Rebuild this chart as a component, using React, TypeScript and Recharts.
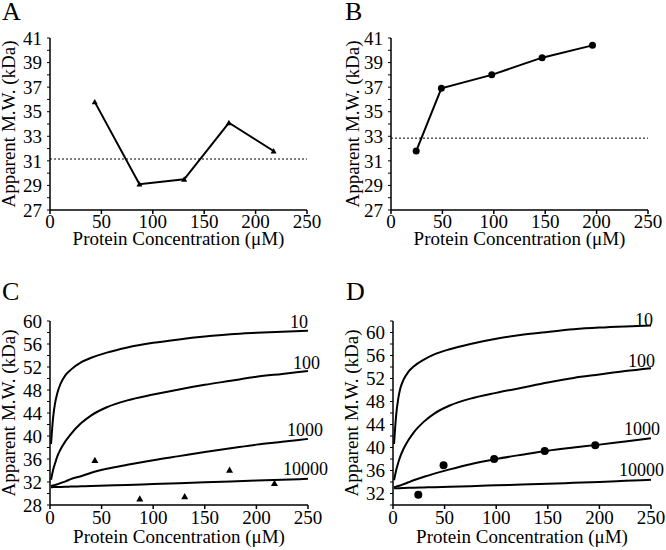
import React from "react"
import {
  ComposedChart,
  Line,
  Scatter,
  XAxis,
  YAxis,
  ReferenceLine,
} from "recharts"

// measured points, panel A (triangles) and panel B (circles)
const concA = [43.5, 87, 130.5, 174, 217.5]
const mwA = [35.8, 29.1, 29.5, 34.1, 31.8]
const monomerA = 31.15
const concB = [24.5, 49, 98, 147, 196]
const mwB = [31.8, 36.9, 38.0, 39.4, 40.4]
const monomerB = 32.85

// axis ticks
const xTicks = [0, 50, 100, 150, 200, 250]
const yTicksAB = [27, 28, 29, 30, 31, 32, 33, 34, 35, 36, 37, 38, 39, 40, 41]
const yLabelsAB = [27, 29, 31, 33, 35, 37, 39, 41]
const yTicksC = [28, 30, 32, 34, 36, 38, 40, 42, 44, 46, 48, 50, 52, 54, 56, 58, 60]
const yLabelsC = [28, 32, 36, 40, 44, 48, 52, 56, 60]
const yTicksD = [30, 32, 34, 36, 38, 40, 42, 44, 46, 48, 50, 52, 54, 56, 58, 60, 62]
const yLabelsD = [32, 36, 40, 44, 48, 52, 56, 60]

// simulated curves at these concentrations
const kdNames = ["10", "100", "1000", "10000"]
const fitConc = [1, 3, 5, 7, 10, 15, 20, 30, 40, 55, 75, 100, 125, 150, 175, 200, 225, 250]
const fitC10 = [38.6, 43.2, 45.8, 47.4, 49.0, 50.6, 51.5, 52.8, 53.6, 54.5, 55.4, 56.2, 56.8, 57.3, 57.7, 57.95, 58.15, 58.3]
const fitC100 = [32.4, 34.1, 35.3, 36.4, 37.6, 39.1, 40.3, 42.2, 43.6, 45.0, 46.2, 47.2, 48.1, 48.9, 49.6, 50.3, 50.8, 51.3]
const fitC1000 = [31.3, 31.4, 31.5, 31.6, 31.8, 32.1, 32.5, 33.0, 33.6, 34.3, 35.0, 35.8, 36.5, 37.2, 37.85, 38.5, 39.0, 39.5]
const fitC10000 = [31.1, 31.11, 31.12, 31.13, 31.15, 31.18, 31.2, 31.25, 31.3, 31.38, 31.48, 31.65, 31.8, 31.95, 32.1, 32.25, 32.4, 32.55]
const fitD10 = [40.6, 45.5, 48.4, 50.2, 51.7, 53.2, 54.1, 55.3, 56.2, 57.1, 58.0, 58.9, 59.6, 60.1, 60.55, 60.85, 61.05, 61.2]
const fitD100 = [34.3, 36.0, 37.3, 38.4, 39.7, 41.3, 42.6, 44.5, 45.9, 47.3, 48.5, 49.5, 50.4, 51.3, 52.1, 52.7, 53.3, 53.8]
const fitD1000 = [33.1, 33.2, 33.3, 33.4, 33.6, 33.95, 34.3, 34.9, 35.45, 36.2, 37.1, 38.0, 38.75, 39.45, 40.0, 40.5, 41.05, 41.6]
const fitD10000 = [32.9, 32.91, 32.92, 32.93, 32.95, 32.98, 33.0, 33.05, 33.1, 33.18, 33.28, 33.42, 33.56, 33.7, 33.85, 34.0, 34.2, 34.4]

const FONT = "'Liberation Serif', 'DejaVu Serif', serif"
const textStyle = { fontFamily: FONT }

const toPoints = (xs: number[], ys: number[]) => xs.map((x, i) => ({ x, y: ys[i] }))

function triangle(cx: number, cy: number, key: string, s = 3.5) {
  return (
    <polygon
      key={key}
      points={`${cx},${cy - s} ${cx + s},${cy + s * 0.8} ${cx - s},${cy + s * 0.8}`}
      fill="#000"
    />
  )
}

function makeYTick(labels: number[]) {
  return (props: any) => {
    const { x, y, payload } = props
    if (!labels.includes(payload.value)) return <g />
    return (
      <text x={x} y={y} dy="0.355em" textAnchor="end" fontSize={19} style={textStyle} fill="#000">
        {payload.value}
      </text>
    )
  }
}

function XTick(props: any) {
  const { x, y, payload } = props
  return (
    <text x={x} y={y} dy="0.71em" textAnchor="middle" fontSize={19} style={textStyle} fill="#000">
      {payload.value}
    </text>
  )
}

// curve name drawn at the last point of each line
function curveLabel(name: string, dx: number, dy: number, lastIndex: number) {
  return (p: any) => {
    if (p.index !== lastIndex) return <g key={`e${p.index}`} />
    return (
      <text key={`l${p.index}`} x={p.cx + dx} y={p.cy + dy} fontSize={18} style={textStyle} fill="#000">
        {name}
      </text>
    )
  }
}

type Margin = { top: number; right: number; bottom: number; left: number }

interface PanelProps {
  letter: string
  left: number
  top: number
  letterX: number
  letterY: number
  margin: Margin
  yDomain: [number, number]
  yTicks: number[]
  yLabels: number[]
  yTitleX: number
  xTitleGap: number
  tickMargin: number
  children: React.ReactNode
}

const W = 333
const H = 275
const AXIS_W = 30
const AXIS_H = 30

function Panel(props: PanelProps) {
  const { margin } = props
  const plotLeft = margin.left + AXIS_W
  const plotRight = W - margin.right
  const plotTop = margin.top
  const plotBottom = H - margin.bottom - AXIS_H
  const cy = (plotTop + plotBottom) / 2
  const axisStyle = { stroke: "#000", strokeWidth: 1.5 }

  return (
    <div style={{ position: "absolute", left: props.left, top: props.top, width: W, height: H, fontFamily: FONT }}>
      <ComposedChart width={W} height={H} margin={margin}>
        <XAxis
          type="number"
          dataKey="x"
          domain={[0, 250]}
          ticks={xTicks}
          height={AXIS_H}
          tickSize={4}
          tickMargin={props.tickMargin}
          axisLine={axisStyle}
          tickLine={axisStyle}
          tick={XTick}
          interval={0}
          allowDuplicatedCategory={false}
        />
        <YAxis
          type="number"
          dataKey="y"
          domain={props.yDomain}
          ticks={props.yTicks}
          width={AXIS_W}
          tickSize={3}
          tickMargin={5}
          axisLine={axisStyle}
          tickLine={{ stroke: "#000", strokeWidth: 1 }}
          tick={makeYTick(props.yLabels)}
          interval={0}
        />
        {props.children}
      </ComposedChart>
      <svg
        width={W}
        height={H}
        style={{ position: "absolute", left: 0, top: 0, pointerEvents: "none", overflow: "visible" }}
      >
        <text x={props.letterX} y={props.letterY} fontSize={26} style={textStyle} fill="#000">
          {props.letter}
        </text>
        <text
          x={props.yTitleX}
          y={cy}
          transform={`rotate(-90 ${props.yTitleX} ${cy})`}
          textAnchor="middle"
          fontSize={19}
          style={textStyle}
          fill="#000"
        >
          Apparent M.W. (kDa)
        </text>
        <text
          x={(plotLeft + plotRight) / 2}
          y={plotBottom + props.xTitleGap}
          textAnchor="middle"
          fontSize={19}
          style={textStyle}
          fill="#000"
        >
          Protein Concentration (μM)
        </text>
      </svg>
    </div>
  )
}

const dataA = toPoints(concA, mwA)
const dataB = toPoints(concB, mwB)
const curvesC = [fitC10, fitC100, fitC1000, fitC10000].map((ys) => toPoints(fitConc, ys))
const curvesD = [fitD10, fitD100, fitD1000, fitD10000].map((ys) => toPoints(fitConc, ys))
const labelOffsetC = [[-18, -3], [-15, -2], [-21, -3], [-25, -4]]
const labelOffsetD = [[-16, 0], [-23, -1], [-27, -3], [-32, -4]]
const last = fitConc.length - 1

export default function App() {
  return (
    <div style={{ position: "absolute", left: 0, top: 0, width: 666, height: 550, background: "#fff" }}>
      <Panel
        letter="A"
        left={0}
        top={0}
        letterX={2}
        letterY={20}
        margin={{ top: 38, right: 26, bottom: 35, left: 20 }}
        yDomain={[27, 41]}
        yTicks={yTicksAB}
        yLabels={yLabelsAB}
        yTitleX={15}
        xTitleGap={35}
        tickMargin={1}
      >
        <ReferenceLine y={monomerA} stroke="#000" strokeWidth={1} strokeDasharray="2 2" />
        <Line
          data={dataA}
          dataKey="y"
          type="linear"
          stroke="#000"
          strokeWidth={2}
          isAnimationActive={false}
          dot={(p: any) => triangle(p.cx, p.cy, `a${p.index}`, 3)}
        />
      </Panel>
      <Panel
        letter="B"
        left={333}
        top={0}
        letterX={12}
        letterY={20}
        margin={{ top: 38, right: 18, bottom: 35, left: 28 }}
        yDomain={[27, 41]}
        yTicks={yTicksAB}
        yLabels={yLabelsAB}
        yTitleX={26}
        xTitleGap={35}
        tickMargin={1}
      >
        <ReferenceLine y={monomerB} stroke="#000" strokeWidth={1} strokeDasharray="2 2" />
        <Line
          data={dataB}
          dataKey="y"
          type="linear"
          stroke="#000"
          strokeWidth={2}
          isAnimationActive={false}
          dot={{ r: 3.5, fill: "#000", stroke: "none" }}
        />
      </Panel>
      <Panel
        letter="C"
        left={0}
        top={275}
        letterX={2}
        letterY={25}
        margin={{ top: 46, right: 25, bottom: 15, left: 20 }}
        yDomain={[28, 60]}
        yTicks={yTicksC}
        yLabels={yLabelsC}
        yTitleX={15}
        xTitleGap={38}
        tickMargin={2}
      >
        {curvesC.map((pts, i) => (
          <Line
            key={`c${i}`}
            data={pts}
            dataKey="y"
            type="monotone"
            stroke="#000"
            strokeWidth={2}
            isAnimationActive={false}
            dot={curveLabel(kdNames[i], labelOffsetC[i][0], labelOffsetC[i][1], last)}
          />
        ))}
        <Scatter
          data={dataA}
          dataKey="y"
          isAnimationActive={false}
          shape={(p: any) => triangle(p.cx, p.cy, `s${p.index}`, 3.5)}
        />
      </Panel>
      <Panel
        letter="D"
        left={333}
        top={275}
        letterX={13}
        letterY={25}
        margin={{ top: 46, right: 15, bottom: 15, left: 30 }}
        yDomain={[30, 62]}
        yTicks={yTicksD}
        yLabels={yLabelsD}
        yTitleX={25}
        xTitleGap={38}
        tickMargin={2}
      >
        {curvesD.map((pts, i) => (
          <Line
            key={`d${i}`}
            data={pts}
            dataKey="y"
            type="monotone"
            stroke="#000"
            strokeWidth={2}
            isAnimationActive={false}
            dot={curveLabel(kdNames[i], labelOffsetD[i][0], labelOffsetD[i][1], last)}
          />
        ))}
        <Scatter
          data={dataB}
          dataKey="y"
          isAnimationActive={false}
          shape={(p: any) => <circle cx={p.cx} cy={p.cy} r={4} fill="#000" />}
        />
      </Panel>
    </div>
  )
}
